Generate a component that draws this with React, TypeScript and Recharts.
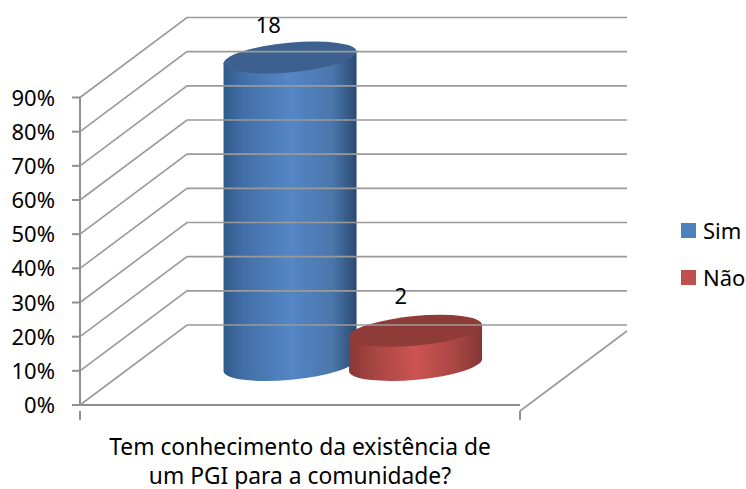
import React from 'react';
import { BarChart, Bar, XAxis, YAxis, Legend, LabelList } from 'recharts';

const categoryLines = ['Tem conhecimento da existência de', 'um PGI para a comunidade?'];
const categories = [categoryLines.join(' ')];
const seriesNames = ['Sim', 'Não'];
const simShare = [90];
const naoShare = [10];
const simCount = [18];
const naoCount = [2];
const yTicks = [0, 10, 20, 30, 40, 50, 60, 70, 80, 90];

const data = categories.map((category, i) => ({
  category,
  sim: simShare[i],
  nao: naoShare[i],
  simCount: simCount[i],
  naoCount: naoCount[i],
}));

const FONT = '"Noto Sans", sans-serif';
const GRID = '#9a9a9a';
const AXIS = '#8f8f8f';
const DEPTH_X = 107;
const DEPTH_Y = 80;
const PLOT_W = 440;

const YTick = (props: any) => {
  const { y, payload } = props;
  const x0 = 80;
  return (
    <g>
      <polyline
        points={`${x0},${y} ${x0 + DEPTH_X},${y - DEPTH_Y} ${x0 + DEPTH_X + PLOT_W},${y - DEPTH_Y}`}
        fill="none"
        stroke={GRID}
        strokeWidth={1.6}
      />
      <text x={55} y={y + 8} textAnchor="end" fontSize={22} fontFamily={FONT} fill="#000">
        {payload.value}%
      </text>
    </g>
  );
};

const XTick = (props: any) => {
  const { x, y } = props;
  const axisY = y - 4;
  const r = x + PLOT_W / 2;
  return (
    <g>
      <line x1={x - PLOT_W / 2} y1={axisY} x2={x - PLOT_W / 2} y2={axisY + 9} stroke={AXIS} strokeWidth={2} />
      <line x1={r} y1={axisY} x2={r} y2={axisY + 9} stroke={AXIS} strokeWidth={2} />
      <polyline
        points={`${r},${axisY} ${r + DEPTH_X},${axisY - DEPTH_Y}`}
        fill="none"
        stroke={GRID}
        strokeWidth={1.6}
      />
      {categoryLines.map((t, i) => (
        <text key={t} x={x} y={455 + i * 28.5} textAnchor="middle" fontSize={22.8} fontFamily={FONT} fill="#000">
          {t}
        </text>
      ))}
    </g>
  );
};

const Cylinder = (props: any) => {
  const { x, y, width, height, id, stops, top } = props;
  const cx = x + width / 2 + DEPTH_X / 2 - 1.2;
  const yt = y - DEPTH_Y / 2;
  const yb = yt + height;
  const a = 66.8;
  const b = 14.8;
  const hw = 66.5;
  const tilt = 5.6;
  return (
    <g>
      <defs>
        <linearGradient id={id} gradientUnits="userSpaceOnUse" x1={cx - hw} x2={cx + hw} y1={0} y2={0}>
          {stops.map((s: [number, string]) => (
            <stop key={s[0]} offset={s[0]} stopColor={s[1]} />
          ))}
        </linearGradient>
      </defs>
      <ellipse cx={cx} cy={yb} rx={a} ry={b} transform={`rotate(-5.4 ${cx} ${yb})`} fill={`url(#${id})`} />
      <polygon
        points={`${cx - hw},${yt + tilt} ${cx + hw},${yt - tilt} ${cx + hw},${yb - tilt} ${cx - hw},${yb + tilt}`}
        fill={`url(#${id})`}
      />
      <ellipse cx={cx} cy={yt} rx={a} ry={b} transform={`rotate(-5.4 ${cx} ${yt})`} fill={top} />
    </g>
  );
};

const blueStops: [number, string][] = [
  [0, '#2f5a8c'],
  [0.15, '#426fa6'],
  [0.5, '#5586c6'],
  [0.82, '#4a76ab'],
  [1, '#2b4a72'],
];
const redStops: [number, string][] = [
  [0, '#8a3836'],
  [0.2, '#a84543'],
  [0.5, '#cc5452'],
  [0.8, '#a94644'],
  [1, '#843634'],
];

const makeLabel = (dx: number, dy: number) => (props: any) => {
  const { x, y, width, value } = props;
  return (
    <text x={x + width / 2 + dx} y={y + dy} textAnchor="middle" fontSize={22} fontFamily={FONT} fill="#000">
      {value}
    </text>
  );
};

const LegendContent = (props: any) => {
  const items = [...(props.payload || [])].sort(
    (a: any, b: any) => seriesNames.indexOf(a.value) - seriesNames.indexOf(b.value),
  );
  return (
    <div style={{ fontFamily: FONT, fontSize: 22, color: '#000' }}>
      {items.map((p: any) => (
        <div key={p.value} style={{ display: 'flex', alignItems: 'center', height: 47, lineHeight: '47px' }}>
          <span style={{ width: 15, height: 15, background: p.color, display: 'inline-block', marginRight: 7 }} />
          <span>{p.value}</span>
        </div>
      ))}
    </div>
  );
};

export default function App() {
  return (
    <div style={{ position: 'absolute', left: 0, top: 0, background: '#fff' }}>
      <BarChart
        width={746}
        height={489}
        data={data}
        margin={{ top: 97.5, right: 161, bottom: 0, left: 0 }}
        barGap={0}
        barSize={125.5}
      >
        <XAxis
          dataKey="category"
          interval={0}
          height={84}
          tickLine={false}
          axisLine={{ stroke: AXIS, strokeWidth: 2 }}
          tick={XTick}
          tickMargin={4}
        />
        <YAxis
          width={80}
          domain={[0, 90]}
          ticks={yTicks}
          interval={0}
          tickSize={8}
          tickLine={{ stroke: AXIS, strokeWidth: 2 }}
          axisLine={{ stroke: AXIS, strokeWidth: 2 }}
          tick={YTick}
        />
        <Legend
          layout="vertical"
          align="right"
          verticalAlign="top"
          content={LegendContent}
          wrapperStyle={{ position: 'absolute', left: 681, top: 207, width: 65 }}
        />
        <Bar
          dataKey="sim"
          name={seriesNames[0]}
          fill="#4f81bd"
          isAnimationActive={false}
          shape={(p: any) => <Cylinder {...p} id="cylSim" stops={blueStops} top="#3d618f" />}
        >
          <LabelList dataKey="simCount" content={makeLabel(30.5, -64.5)} />
        </Bar>
        <Bar
          dataKey="nao"
          name={seriesNames[1]}
          fill="#c0504d"
          isAnimationActive={false}
          shape={(p: any) => <Cylinder {...p} id="cylNao" stops={redStops} top="#8f3c39" />}
        >
          <LabelList dataKey="naoCount" content={makeLabel(37.5, -67)} />
        </Bar>
      </BarChart>
    </div>
  );
}
